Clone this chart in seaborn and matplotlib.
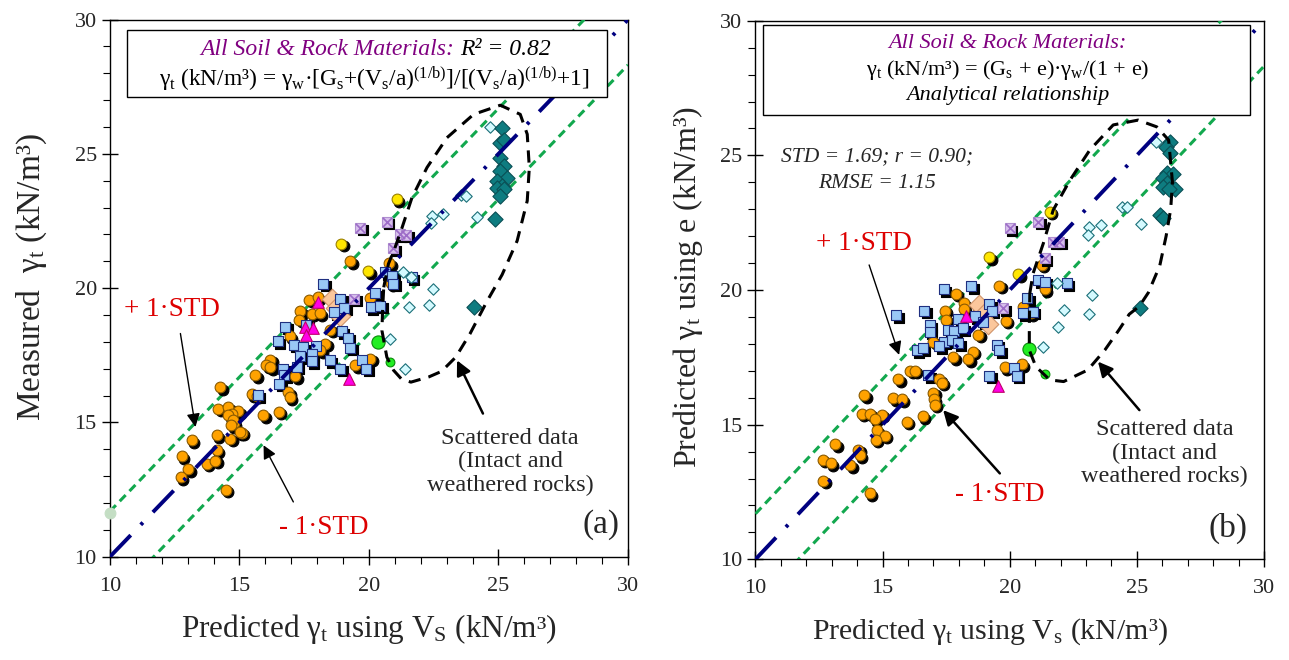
import numpy as np
import pandas as pd
import matplotlib
matplotlib.use('Agg')
import matplotlib.pyplot as plt
import seaborn as sns
from matplotlib.transforms import ScaledTranslation
from matplotlib.patches import Rectangle
from matplotlib.ticker import MultipleLocator

# ---------------- data: panel (a) ----------------
a_orange_x = [19.28, 20.79, 20.85, 20.05, 17.70, 18.02, 17.34, 17.80, 18.09, 17.31, 18.51, 16.95, 18.31, 18.12,
              16.18, 16.03, 16.18, 15.60, 17.15, 16.89, 16.95, 15.48, 15.67, 14.25, 14.18, 14.57, 14.95, 14.71,
              14.77, 15.09, 14.64, 14.12, 15.92, 16.51, 13.16, 12.77, 14.12, 13.74, 14.06, 13.03, 12.73, 14.48,
              20.05, 19.47, 14.56, 14.74, 14.68, 15.01]
a_orange_y = [21.00, 20.92, 20.18, 19.62, 19.56, 19.66, 19.14, 19.04, 19.06, 18.82, 18.45, 18.20, 17.93, 17.68,
              17.33, 17.12, 17.06, 16.75, 16.71, 16.13, 15.94, 16.04, 16.00, 16.31, 15.51, 15.57, 15.42, 15.30,
              14.96, 14.61, 14.40, 14.52, 15.26, 15.39, 14.33, 13.74, 13.96, 13.47, 13.57, 13.25, 12.95, 12.50,
              17.37, 17.12, 15.26, 15.08, 14.89, 14.64]
a_yellow_x = [21.08, 18.92, 19.98]
a_yellow_y = [23.31, 21.66, 20.62]
a_blue_x = [18.24, 18.89, 19.05, 18.66, 20.24, 20.07, 20.43, 20.63, 20.89, 20.93, 21.66, 16.77, 17.57, 16.47,
            17.09, 17.45, 17.34, 17.96, 17.80, 17.80, 18.48, 18.95, 19.18, 19.28, 18.89, 19.72, 19.90, 16.70,
            16.73, 16.54, 17.21, 15.70]
a_blue_y = [20.16, 19.60, 19.26, 19.10, 19.81, 19.29, 19.35, 20.59, 20.46, 20.16, 20.40, 18.57, 18.64, 18.02,
            17.90, 17.80, 17.46, 17.86, 17.53, 17.28, 17.31, 18.39, 18.15, 17.78, 17.00, 17.31, 17.00, 17.00,
            16.75, 16.44, 17.08, 16.01]
a_purple_x = [19.66, 20.69, 21.19, 21.44, 20.93, 19.43]
a_purple_y = [22.24, 22.48, 22.01, 21.99, 21.49, 19.60]
a_magenta_x = [18.05, 17.54, 17.84, 17.57, 19.21]
a_magenta_y = [19.47, 18.54, 18.52, 18.27, 16.63]
a_peach_x = [18.57, 18.73, 18.89]
a_peach_y = [19.60, 19.25, 18.98]
a_cyan_x = [24.69, 23.55, 23.76, 22.43, 22.85, 22.41, 24.17, 21.31, 21.62, 22.49, 22.30, 21.53, 20.83, 21.40]
a_cyan_y = [26.00, 23.47, 23.44, 22.69, 22.76, 22.41, 22.66, 20.59, 20.40, 19.97, 19.38, 19.31, 18.11, 17.00]
a_teal_x = [25.14, 25.07, 25.22, 25.05, 25.22, 25.05, 25.33, 24.95, 25.14, 24.95, 25.22, 25.05, 24.88, 24.05]
a_teal_y = [25.97, 25.42, 25.51, 24.84, 24.55, 24.37, 24.09, 23.99, 23.80, 23.72, 23.69, 23.44, 22.57, 19.29]
a_green_big = ([20.33], [17.99])
a_green_small = ([20.83], [17.24])
a_palegreen = ([10.0], [11.63])
a_loop_x = [20.57, 20.75, 21.01, 21.28, 21.66, 22.24, 23.01, 24.04, 25.07, 25.84, 26.11, 26.19, 26.11, 25.72,
            25.14, 24.55, 23.90, 23.35, 22.80, 22.30, 21.62, 21.25, 20.95, 20.69, 20.50, 20.53, 20.57]
a_loop_y = [20.03, 20.90, 21.52, 22.26, 23.37, 24.49, 25.60, 26.47, 26.81, 26.47, 25.73, 24.49, 23.25, 21.76,
            20.50, 19.50, 18.30, 17.43, 16.90, 16.69, 16.50, 16.62, 16.94, 17.43, 18.42, 19.30, 20.03]

# ---------------- data: panel (b) ----------------
b_orange_x = [19.59, 17.88, 18.20, 18.20, 17.45, 17.49, 18.76, 19.85, 20.51, 20.83, 21.25, 21.38, 18.76, 18.54,
              17.78, 18.37, 16.99, 19.81, 20.47, 16.08, 16.27, 17.23, 17.32, 15.62, 16.99, 17.02, 17.06, 14.27,
              15.42, 15.75, 14.18, 14.50, 14.96, 14.70, 14.77, 15.09, 14.74, 15.95, 16.57, 13.13, 14.04, 14.11,
              12.64, 12.96, 13.72, 12.67, 14.50]
b_orange_y = [20.15, 19.87, 19.51, 19.28, 19.23, 18.89, 19.19, 18.85, 19.38, 19.13, 20.93, 20.03, 18.33, 17.71,
              17.50, 17.43, 18.08, 17.13, 17.25, 17.00, 17.00, 16.68, 16.56, 16.68, 16.19, 15.94, 15.73, 16.10,
              15.98, 15.94, 15.40, 15.40, 15.36, 15.20, 14.80, 14.58, 14.43, 15.11, 15.32, 14.28, 14.06, 13.87,
              13.69, 13.57, 13.50, 12.92, 12.45]
b_yellow_x = [21.58, 19.19, 20.33]
b_yellow_y = [22.91, 21.21, 20.59]
b_blue_x = [17.41, 18.48, 21.12, 21.38, 22.24, 15.53, 16.63, 16.86, 16.86, 17.98, 17.58, 17.81, 18.15, 17.41,
            17.23, 17.72, 17.98, 16.34, 16.57, 18.63, 18.93, 19.19, 19.29, 19.48, 19.59, 19.19, 20.17, 20.27,
            20.51, 20.90, 16.80, 20.69]
b_blue_y = [20.03, 20.14, 20.37, 20.31, 20.25, 19.07, 19.23, 18.70, 18.45, 18.91, 18.51, 18.49, 18.58, 18.08,
            17.92, 18.14, 18.02, 17.77, 17.83, 19.03, 18.82, 19.47, 19.23, 17.96, 17.77, 16.81, 17.09, 16.81,
            19.13, 19.19, 16.84, 19.69]
b_purple_x = [20.01, 21.12, 21.71, 21.95, 21.38, 19.75]
b_purple_y = [22.29, 22.54, 21.79, 21.79, 21.18, 19.32]
b_magenta_x = [18.28, 19.55]
b_magenta_y = [19.03, 16.44]
b_peach_x = [18.80, 18.98, 19.15]
b_peach_y = [19.44, 19.10, 18.75]
b_cyan_x = [25.75, 24.40, 24.62, 23.57, 23.13, 23.09, 25.15, 21.84, 23.22, 22.12, 23.13, 21.91, 21.31]
b_cyan_y = [25.51, 23.07, 23.07, 22.41, 22.35, 22.04, 22.45, 20.27, 19.81, 19.26, 19.11, 18.64, 17.89]
b_teal_x = [26.30, 26.14, 26.30, 26.17, 26.41, 26.04, 26.19, 26.01, 26.50, 26.27, 25.91, 26.01, 25.12]
b_teal_y = [25.51, 25.32, 25.08, 24.36, 24.31, 24.15, 23.96, 23.81, 23.74, 23.74, 22.79, 22.66, 19.32]
b_green_big = ([20.77], [17.80])
b_green_small = ([21.38], [16.88])
b_loop_x = [20.79, 20.92, 21.32, 21.71, 22.37, 23.15, 24.07, 25.05, 25.78, 26.25, 26.40, 26.33, 26.15, 25.90,
            25.45, 25.10, 24.70, 24.29, 23.74, 23.07, 22.12, 21.58, 21.03, 20.77, 20.77, 20.79]
b_loop_y = [19.88, 20.62, 21.73, 22.97, 24.08, 25.20, 26.13, 26.31, 26.06, 25.57, 24.00, 23.00, 22.00, 20.90,
            19.90, 19.40, 19.10, 18.51, 17.77, 17.03, 16.60, 16.66, 17.15, 17.77, 18.64, 19.88]

STD = 1.69
line_x = [10, 30]

# ---------------- style ----------------
sns.set_style('ticks')
plt.rcParams['font.family'] = ['Liberation Serif', 'DejaVu Serif']
plt.rcParams['mathtext.fontset'] = 'custom'
plt.rcParams['mathtext.rm'] = 'Liberation Serif'
plt.rcParams['mathtext.it'] = 'Liberation Serif:italic'
plt.rcParams['mathtext.bf'] = 'Liberation Serif:bold'

fig = plt.figure(figsize=(12.89, 6.60), dpi=100)
axA = fig.add_axes([0.0853, 0.1565, 0.4019, 0.8139])
axB = fig.add_axes([0.5861, 0.1526, 0.3945, 0.8160])

RED = '#DD0000'
PURPLE = '#800080'
GREEN = '#12A84E'
NAVY = '#000080'


def scat(ax, xs, ys, marker, size, face, edge, lw=0.8, shadow=True, z=5):
    df = pd.DataFrame({'x': xs, 'y': ys})
    if shadow:
        sns.scatterplot(data=df, x='x', y='y', ax=ax, marker=marker, s=size, color='black',
                        edgecolor='black', linewidth=lw, zorder=z - 0.5, legend=False)
        coll = ax.collections[-1]
        coll.set_offset_transform(ax.transData + ScaledTranslation(1.8 / 72, -1.8 / 72, fig.dpi_scale_trans))
    sns.scatterplot(data=df, x='x', y='y', ax=ax, marker=marker, s=size, color=face,
                    edgecolor=edge, linewidth=lw, zorder=z, legend=False)


def panel(ax, d):
    lx = np.array(line_x, dtype=float)
    sns.lineplot(x=lx, y=lx + STD, ax=ax, color=GREEN, lw=2.2, linestyle=(0, (2.8, 1.8)), zorder=3)
    sns.lineplot(x=lx, y=lx - STD, ax=ax, color=GREEN, lw=2.2, linestyle=(0, (2.8, 1.8)), zorder=3)
    scat(ax, d['orange'][0], d['orange'][1], 'o', 60, '#FFA200', '#8A5A00', z=5)
    scat(ax, d['yellow'][0], d['yellow'][1], 'o', 60, '#FFE600', '#9A8000', z=5.1)
    scat(ax, d['peach'][0], d['peach'][1], 'D', 110, '#FBC79C', '#D0946A', shadow=False, z=5.2)
    scat(ax, d['blue'][0], d['blue'][1], 's', 50, '#99C8F5', '#1F2F80', z=5.3)
    scat(ax, d['magenta'][0], d['magenta'][1], '^', 70, '#FF00E6', '#C0006A', shadow=False, z=5.4)
    scat(ax, d['purple'][0], d['purple'][1], 's', 50, '#D8C0EC', '#B090D0', z=5.5)
    dfp = pd.DataFrame({'x': d['purple'][0], 'y': d['purple'][1]})
    sns.scatterplot(data=dfp, x='x', y='y', ax=ax, marker='x', s=45, color='#9D6CC8', linewidth=1.2,
                    zorder=5.6, legend=False)
    scat(ax, d['cyan'][0], d['cyan'][1], 'D', 34, '#D4FAFF', '#1B6F78', shadow=False, z=5.7)
    scat(ax, d['teal'][0], d['teal'][1], 'D', 60, '#0E7C80', '#0A4F55', shadow=False, z=5.8)
    scat(ax, d['gbig'][0], d['gbig'][1], 'o', 90, '#22EE22', '#0A8A0A', shadow=False, z=5.9)
    scat(ax, d['gsmall'][0], d['gsmall'][1], 'o', 40, '#22EE22', '#0A8A0A', shadow=False, z=5.9)
    sns.lineplot(x=lx, y=lx, ax=ax, color=NAVY, lw=2.8, linestyle=(0, (7.7, 3.7, 0.8, 3.7)), zorder=7)
    sns.lineplot(x=d['loop'][0], y=d['loop'][1], ax=ax, sort=False, estimator=None, color='black',
                 lw=2.2, linestyle=(0, (4.0, 2.7)), zorder=7)
    ax.set_xlim(10, 30)
    ax.set_ylim(10, 30)
    ax.xaxis.set_major_locator(MultipleLocator(5))
    ax.yaxis.set_major_locator(MultipleLocator(5))
    ax.xaxis.set_minor_locator(MultipleLocator(1))
    ax.yaxis.set_minor_locator(MultipleLocator(1))
    ax.tick_params(which='major', direction='inout', length=11, width=1, labelsize=16, color='black')
    ax.tick_params(which='minor', direction='out', length=5, width=0.8, color='black')
    ax.tick_params(axis='x', which='major', pad=9)
    ax.tick_params(axis='y', which='major', pad=4)
    for s in ax.spines.values():
        s.set_color('black')
        s.set_linewidth(1.0)


dA = dict(orange=(a_orange_x, a_orange_y), yellow=(a_yellow_x, a_yellow_y), blue=(a_blue_x, a_blue_y),
          purple=(a_purple_x, a_purple_y), magenta=(a_magenta_x, a_magenta_y), peach=(a_peach_x, a_peach_y),
          cyan=(a_cyan_x, a_cyan_y), teal=(a_teal_x, a_teal_y), gbig=a_green_big, gsmall=a_green_small,
          loop=(a_loop_x, a_loop_y))
dB = dict(orange=(b_orange_x, b_orange_y), yellow=(b_yellow_x, b_yellow_y), blue=(b_blue_x, b_blue_y),
          purple=(b_purple_x, b_purple_y), magenta=(b_magenta_x, b_magenta_y), peach=(b_peach_x, b_peach_y),
          cyan=(b_cyan_x, b_cyan_y), teal=(b_teal_x, b_teal_y), gbig=b_green_big, gsmall=b_green_small,
          loop=(b_loop_x, b_loop_y))

panel(axA, dA)
panel(axB, dB)
scat(axA, a_palegreen[0], a_palegreen[1], 'o', 60, '#C4DEC4', '#C4DEC4', shadow=False, z=5)
axA.collections[-1].set_clip_on(False)

# ---------------- labels ----------------
axA.set_xlabel('Predicted $\\mathrm{γ_t}$ using $\\mathrm{V_S}$ (kN/m³)', fontsize=22.5)
axA.set_ylabel('Measured  $\\mathrm{γ_t}$ (kN/m³)', fontsize=24)
axB.set_xlabel('Predicted $\\mathrm{γ_t}$ using $\\mathrm{V_s}$ (kN/m³)', fontsize=21.5)
axB.set_ylabel('Predicted $\\mathrm{γ_t}$ using e (kN/m³)', fontsize=23)
axA.xaxis.set_label_coords(0.50, -0.135)
axB.xaxis.set_label_coords(0.46, -0.135)
axA.yaxis.set_label_coords(-0.151, 0.52)
axB.yaxis.set_label_coords(-0.133, 0.505)
for ax in (axA, axB):
    ax.yaxis.label.set_va('center')
    ax.xaxis.label.set_va('center')

# ---------------- boxes ----------------
axA.add_patch(Rectangle((0.0338, 0.8563), 0.9257, 0.1242, transform=axA.transAxes, facecolor='white',
                        edgecolor='black', lw=1.0, zorder=8))
t1 = axA.text(0.676, 0.9445, 'All Soil & Rock Materials: ', transform=axA.transAxes, ha='right', va='center',
              fontsize=17, style='italic', color=PURPLE, zorder=9)
axA.annotate('R² = 0.82', xy=(1, 0), xycoords=t1, ha='left', va='bottom', fontsize=17, style='italic',
             color='black', zorder=9)
axA.text(0.510, 0.8905,
         '$\\mathrm{γ_t}$ (kN/m³) = $\\mathrm{γ_w}$·[$\\mathrm{G_s}$+$\\mathrm{(V_s/a)^{(1/b)}}$]/'
         '[$\\mathrm{(V_s/a)^{(1/b)}}$+1]',
         transform=axA.transAxes, ha='center', va='center', fontsize=16.8, color='black', zorder=9)

axB.add_patch(Rectangle((0.0155, 0.825), 0.9562, 0.167, transform=axB.transAxes, facecolor='white',
                        edgecolor='black', lw=1.0, zorder=8))
axB.text(0.4955, 0.958, 'All Soil & Rock Materials:', transform=axB.transAxes, ha='center', va='center',
         fontsize=16, style='italic', color=PURPLE, zorder=9)
axB.text(0.4955, 0.9085, '$\\mathrm{γ_t}$ (kN/m³) = ($\\mathrm{G_s}$ + e)·$\\mathrm{γ_w}$/(1 + e)',
         transform=axB.transAxes, ha='center', va='center', fontsize=16, color='black', zorder=9)
axB.text(0.4955, 0.862, 'Analytical relationship', transform=axB.transAxes, ha='center', va='center',
         fontsize=16, style='italic', color='black', zorder=9)

axB.text(14.78, 24.45, 'STD = 1.69; r = 0.90;\nRMSE = 1.15', ha='center', va='center', fontsize=15.5,
         style='italic', linespacing=1.5, zorder=9)

# ---------------- annotations ----------------
thin = dict(arrowstyle='-|>', color='black', lw=1.0, mutation_scale=20, shrinkA=0, shrinkB=0)
thick = dict(arrowstyle='-|>', color='black', lw=1.8, mutation_scale=22, shrinkA=0, shrinkB=0)

axA.text(12.40, 19.2, '+ 1·STD', color=RED, fontsize=19.5, ha='center', va='center', zorder=9)
axA.annotate('', xy=(13.30, 14.83), xytext=(12.72, 18.31), arrowprops=thin, zorder=9)
axA.text(18.25, 11.1, '- 1·STD', color=RED, fontsize=19.5, ha='center', va='center', zorder=9)
axA.annotate('', xy=(15.93, 14.15), xytext=(17.08, 12.04), arrowprops=thin, zorder=9)
axA.text(25.45, 13.53, 'Scattered data\n(Intact and\nweathered rocks)', fontsize=17.5, ha='center',
         va='center', linespacing=1.15, zorder=9)
axA.annotate('', xy=(23.40, 17.31), xytext=(24.40, 15.33), arrowprops=thick, zorder=9)
axA.text(28.95, 11.18, '(a)', fontsize=24, ha='center', va='center', zorder=9)

axB.text(14.27, 21.74, '+ 1·STD', color=RED, fontsize=19.5, ha='center', va='center', zorder=9)
axB.annotate('', xy=(15.65, 17.59), xytext=(14.47, 20.93), arrowprops=thin, zorder=9)
axB.text(19.61, 12.39, '- 1·STD', color=RED, fontsize=19.5, ha='center', va='center', zorder=9)
axB.annotate('', xy=(17.38, 15.54), xytext=(19.61, 13.19), arrowprops=thick, zorder=9)
axB.text(26.10, 13.94, 'Scattered data\n(Intact and\nweathered rocks)', fontsize=17.5, ha='center',
         va='center', linespacing=1.15, zorder=9)
axB.annotate('', xy=(23.47, 17.34), xytext=(25.10, 15.54), arrowprops=thick, zorder=9)
axB.text(28.58, 11.16, '(b)', fontsize=24, ha='center', va='center', zorder=9)

fig.savefig('out.png', dpi=100)
